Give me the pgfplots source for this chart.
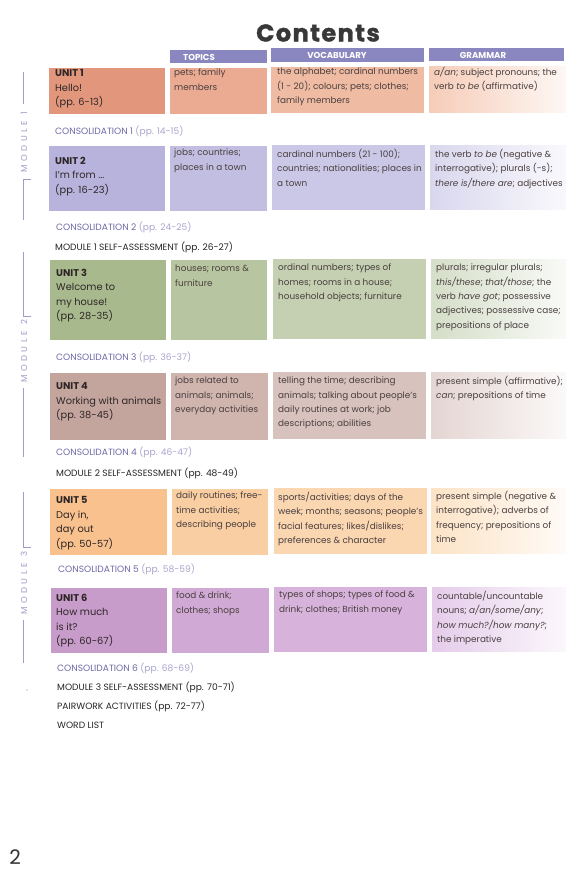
\documentclass[border=0pt]{standalone}
\usepackage{pgfplots}
\pgfplotsset{compat=1.18}
\usepackage{fontspec}
\setmainfont{Poppins}
\definecolor{hdr}{HTML}{8A86C0}
\definecolor{txt}{HTML}{4A4040}
\definecolor{dark}{HTML}{2E2626}
\definecolor{cons}{HTML}{6E6AA8}
\definecolor{consl}{HTML}{A9A6CE}
\definecolor{modc}{HTML}{A09DC8}
\definecolor{Ua}{HTML}{E2977D}\definecolor{Ub}{HTML}{EBAA92}\definecolor{Uc}{HTML}{F0BBA3}\definecolor{Ud}{HTML}{F6CCB8}
\definecolor{Va}{HTML}{B8B3DC}\definecolor{Vb}{HTML}{C2BEE2}\definecolor{Vc}{HTML}{CBC8E7}\definecolor{Vd}{HTML}{D9D7EE}
\definecolor{Wa}{HTML}{A8B98E}\definecolor{Wb}{HTML}{B7C6A0}\definecolor{Wc}{HTML}{C4D0B1}\definecolor{Wd}{HTML}{D5DEC8}
\definecolor{Xa}{HTML}{C4A59E}\definecolor{Xb}{HTML}{D0B4AE}\definecolor{Xc}{HTML}{D8C2BD}\definecolor{Xd}{HTML}{E4D5D2}
\definecolor{Ya}{HTML}{F8C18E}\definecolor{Yb}{HTML}{F9CEA2}\definecolor{Yc}{HTML}{FAD6B1}\definecolor{Yd}{HTML}{FCE3C6}
\definecolor{Za}{HTML}{C79BCA}\definecolor{Zb}{HTML}{D1A9D5}\definecolor{Zc}{HTML}{D7B3DC}\definecolor{Zd}{HTML}{E5CCEA}
\newcommand{\cell}[5]{\addplot[fill=#5,draw=none] coordinates {(#1,#2) (#3,#2) (#3,#4) (#1,#4)} -- cycle;}
\newcommand{\gcell}[5]{\addplot[draw=none,left color=#5,right color=#5!15!white] coordinates {(#1,#2) (#3,#2) (#3,#4) (#1,#4)} -- cycle;}
\newcommand{\ls}{\hspace{3.4pt}}
\tikzset{body/.style={anchor=north west,inner sep=0pt,align=left,text=txt,font=\fontsize{8.85}{14.3}\selectfont},
 unit/.style={body,text=dark,font=\fontsize{9.8}{14.5}\selectfont},
 consl/.style={anchor=west,inner sep=0pt,font=\fontsize{9.1}{10}\selectfont},
 modl/.style={anchor=center,inner sep=0pt,rotate=90,text=modc,font=\fontsize{8.6}{9}\selectfont},
 hdrt/.style={anchor=center,inner sep=0pt,text=white,font=\fontsize{8.6}{9}\bfseries}}
\begin{document}
\begin{tikzpicture}
\begin{axis}[scale only axis,width=574pt,height=876pt,xmin=0,xmax=574,ymin=0,ymax=876,
 y dir=reverse,hide axis,clip=false,enlargelimits=false]
\addplot[fill=white,draw=none] coordinates {(0,0) (574,0) (574,876) (0,876)} -- cycle;
% header bars
\cell{170}{50}{267}{63}{hdr}
\cell{271}{48}{424}{62}{hdr}
\cell{429}{48}{564}{61}{hdr}
% unit 1
\cell{49}{68}{165}{114}{Ua}
\cell{170}{68}{267}{114}{Ub}
\cell{271}{67}{424}{113}{Uc}
\gcell{429}{66}{566}{112}{Ud}
% unit 2
\cell{49}{146}{165}{211}{Va}
\cell{170}{146}{267}{211}{Vb}
\cell{272}{145}{425}{210}{Vc}
\gcell{430}{145}{566}{209}{Vd}
% unit 3
\cell{50}{260}{166}{340}{Wa}
\cell{171}{260}{267}{340}{Wb}
\cell{273}{259}{426}{339}{Wc}
\gcell{431}{259}{566}{338}{Wd}
% unit 4
\cell{50}{373}{166}{440}{Xa}
\cell{171}{373}{268}{440}{Xb}
\cell{273}{372}{426}{439}{Xc}
\gcell{431}{372}{566}{438}{Xd}
% unit 5
\cell{50}{489}{167}{555}{Ya}
\cell{172}{489}{268}{555}{Yb}
\cell{274}{488}{427}{554}{Yc}
\gcell{431}{488}{566}{553}{Yd}
% unit 6
\cell{51}{588}{167}{653}{Za}
\cell{172}{588}{269}{653}{Zb}
\cell{274}{587}{427}{652}{Zc}
\gcell{432}{587}{566}{651}{Zd}
% module lines
\addplot[modc,line width=0.5pt] coordinates {(23,72) (23,104)};
\addplot[modc,line width=0.5pt] coordinates {(31,179) (23,179) (23,220)};
\addplot[modc,line width=0.5pt] coordinates {(23,252) (23,316) (31,316)};
\addplot[modc,line width=0.5pt] coordinates {(23,388) (23,457)};
\addplot[modc,line width=0.5pt] coordinates {(23,492) (23,547) (31,547)};
\addplot[modc,line width=0.5pt] coordinates {(23,620) (23,663)};
\addplot[only marks,mark=*,mark size=0.4pt,modc] coordinates {(27,690)};
\node[modl] at (axis cs:24,142) {M\ls O\ls D\ls U\ls L\ls E\ls\ls 1};
\node[modl] at (axis cs:24,351) {M\ls O\ls D\ls U\ls L\ls E\ls\ls 2};
\node[modl] at (axis cs:24,583) {M\ls O\ls D\ls U\ls L\ls E\ls\ls 3};
% title
\node[anchor=center,inner sep=0pt,text=black!78,font=\fontsize{24}{26}\bfseries\addfontfeatures{LetterSpace=6,FakeBold=1.5}] at (axis cs:318,33) {Contents};
\node[hdrt] at (axis cs:199,57) {TOPICS};
\node[hdrt] at (axis cs:337,55.5) {VOCABULARY};
\node[hdrt] at (axis cs:483,55) {GRAMMAR};
% unit 1 text
\node[unit] at (axis cs:55,69.5) {\textbf{UNIT 1}\\Hello!\\(pp. 6-13)};
\node[body] at (axis cs:174,69) {pets; family\\members};
\node[body] at (axis cs:277,68) {the alphabet; cardinal numbers\\(1 - 20); colours; pets; clothes;\\family members};
\node[body] at (axis cs:434,67) {\textit{a/an}; subject pronouns; the\\verb \textit{to be} (affirmative)};
% unit 2 text
\node[unit] at (axis cs:55,156.5) {\textbf{UNIT 2}\\I'm from ...\\(pp. 16-23)};
\node[body] at (axis cs:174,149) {jobs; countries;\\places in a town};
\node[body] at (axis cs:277,149) {cardinal numbers (21 - 100);\\countries; nationalities; places in\\a town};
\node[body] at (axis cs:435,149) {the verb \textit{to be} (negative \&\\interrogative); plurals (-s);\\\textit{there is/there are}; adjectives};
% unit 3 text
\node[unit] at (axis cs:56,268.5) {\textbf{UNIT 3}\\Welcome to\\my house!\\(pp. 28-35)};
\node[body] at (axis cs:175,265) {houses; rooms \&\\furniture};
\node[body] at (axis cs:278,264) {ordinal numbers; types of\\homes; rooms in a house;\\household objects; furniture};
\node[body] at (axis cs:436,264) {plurals; irregular plurals;\\\textit{this/these}; \textit{that/those}; the\\verb \textit{have got}; possessive\\adjectives; possessive case;\\prepositions of place};
% unit 4 text
\node[unit] at (axis cs:56,382.5) {\textbf{UNIT 4}\\Working with animals\\(pp. 38-45)};
\node[body] at (axis cs:175,377) {jobs related to\\animals; animals;\\everyday activities};
\node[body] at (axis cs:278,377) {telling the time; describing\\animals; talking about people's\\daily routines at work; job\\descriptions; abilities};
\node[body] at (axis cs:436,376) {present simple (affirmative);\\\textit{can}; prepositions of time};
% unit 5 text
\node[unit] at (axis cs:56,496.5) {\textbf{UNIT 5}\\Day in,\\day out\\(pp. 50-57)};
\node[body] at (axis cs:176,492) {daily routines; free-\\time activities;\\describing people};
\node[body] at (axis cs:278,492) {sports/activities; days of the\\week; months; seasons; people's\\facial features; likes/dislikes;\\preferences \& character};
\node[body] at (axis cs:436,491) {present simple (negative \&\\interrogative); adverbs of\\frequency; prepositions of\\time};
% unit 6 text
\node[unit] at (axis cs:56,593.5) {\textbf{UNIT 6}\\How much\\is it?\\(pp. 60-67)};
\node[body] at (axis cs:176,592) {food \& drink;\\clothes; shops};
\node[body] at (axis cs:279,591) {types of shops; types of food \&\\drink; clothes; British money};
\node[body] at (axis cs:437,591) {countable/uncountable\\nouns; \textit{a/an/some/any};\\\textit{how much?/how many?};\\the imperative};
% consolidations
\node[consl,text=cons] at (axis cs:55,131) {CONSOLIDATION 1 \textcolor{consl}{(pp. 14-15)}};
\node[consl,text=cons] at (axis cs:56,227) {CONSOLIDATION 2 \textcolor{consl}{(pp. 24-25)}};
\node[consl,text=cons] at (axis cs:56,357) {CONSOLIDATION 3 \textcolor{consl}{(pp. 36-37)}};
\node[consl,text=cons] at (axis cs:56,452) {CONSOLIDATION 4 \textcolor{consl}{(pp. 46-47)}};
\node[consl,text=cons] at (axis cs:58,569) {CONSOLIDATION 5 \textcolor{consl}{(pp. 58-59)}};
\node[consl,text=cons] at (axis cs:57,668) {CONSOLIDATION 6 \textcolor{consl}{(pp. 68-69)}};
\node[consl,text=black!85] at (axis cs:55,247) {MODULE 1 SELF-ASSESSMENT (pp. 26-27)};
\node[consl,text=black!85] at (axis cs:56,473) {MODULE 2 SELF-ASSESSMENT (pp. 48-49)};
\node[consl,text=black!85] at (axis cs:57,687) {MODULE 3 SELF-ASSESSMENT (pp. 70-71)};
\node[consl,text=black!85] at (axis cs:57,706) {PAIRWORK ACTIVITIES (pp. 72-77)};
\node[consl,text=black!85] at (axis cs:57,725) {WORD LIST};
\node[anchor=center,inner sep=0pt,text=black!80,font=\fontsize{20}{22}\selectfont] at (axis cs:15,857) {2};
\end{axis}
\end{tikzpicture}
\end{document}
